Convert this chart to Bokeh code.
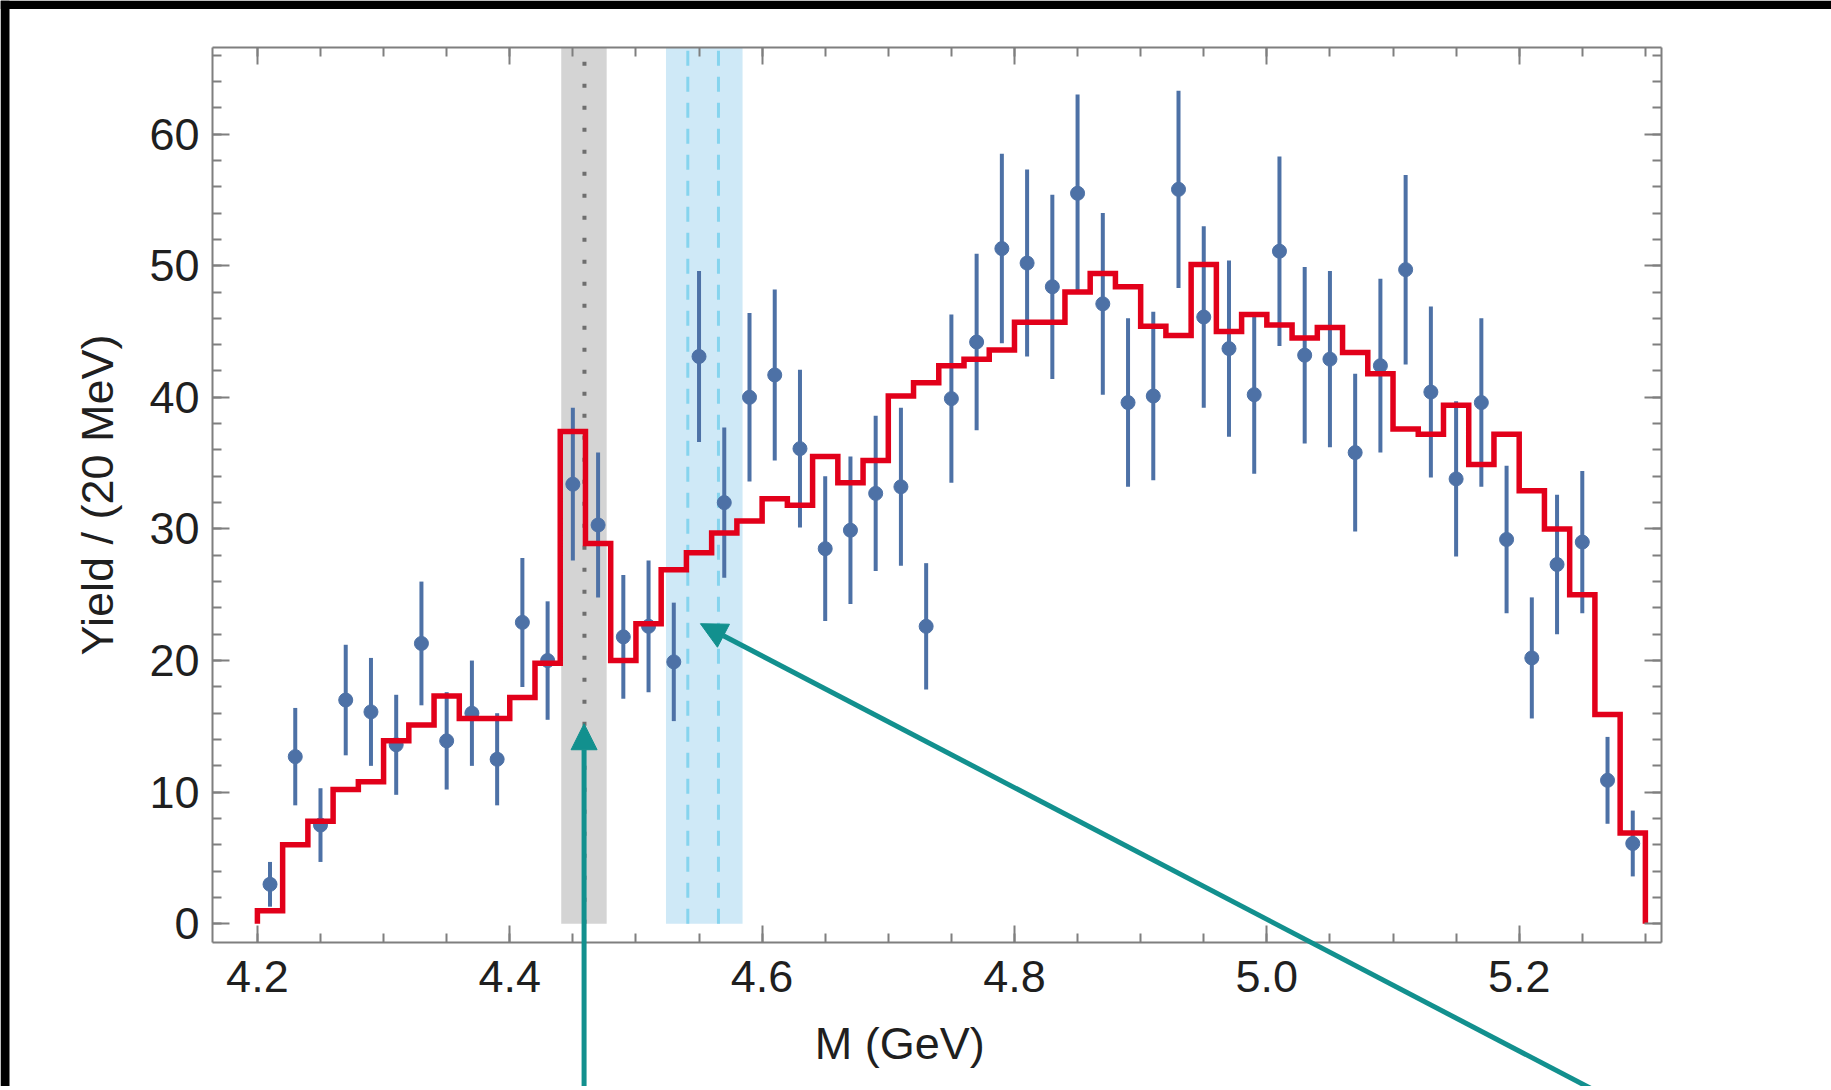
from bokeh.plotting import figure
from bokeh.models import (Range1d, LinearAxis, SingleIntervalTicker, NumeralTickFormatter,
                          Arrow, NormalHead, Label, CustomJSTickFormatter)
from bokeh.embed import file_html
from bokeh.resources import INLINE

# ---------------- data ----------------
mass = [4.21, 4.23, 4.25, 4.27, 4.29, 4.31, 4.33, 4.35, 4.37, 4.39,
        4.41, 4.43, 4.45, 4.47, 4.49, 4.51, 4.53, 4.55, 4.57, 4.59,
        4.61, 4.63, 4.65, 4.67, 4.69, 4.71, 4.73, 4.75, 4.77, 4.79,
        4.81, 4.83, 4.85, 4.87, 4.89, 4.91, 4.93, 4.95, 4.97, 4.99,
        5.01, 5.03, 5.05, 5.07, 5.09, 5.11, 5.13, 5.15, 5.17, 5.19,
        5.21, 5.23, 5.25, 5.27, 5.29]

yield_data = [3.0, 12.7, 7.5, 17.0, 16.1, 13.6, 21.3, 13.9, 16.0, 12.5,
              22.9, 20.0, 33.4, 30.3, 21.8, 22.6, 19.9, 43.1, 32.0, 40.0,
              41.7, 36.1, 28.5, 29.9, 32.7, 33.2, 22.6, 39.9, 44.2, 51.3,
              50.2, 48.4, 55.5, 47.1, 39.6, 40.1, 55.8, 46.1, 43.7, 40.2,
              51.1, 43.2, 42.9, 35.8, 42.4, 49.7, 40.4, 33.8, 39.6, 29.2,
              20.2, 27.3, 29.0, 10.9, 6.1]

yield_err = [1.7, 3.7, 2.8, 4.2, 4.1, 3.8, 4.7, 3.7, 4.0, 3.5,
             4.9, 4.5, 5.8, 5.5, 4.7, 5.0, 4.5, 6.5, 5.7, 6.4,
             6.5, 6.0, 5.5, 5.6, 5.9, 6.0, 4.8, 6.4, 6.7, 7.2,
             7.1, 7.0, 7.5, 6.9, 6.4, 6.4, 7.5, 6.9, 6.7, 6.0,
             7.2, 6.7, 6.7, 6.0, 6.6, 7.2, 6.5, 5.9, 6.4, 5.6,
             4.6, 5.3, 5.4, 3.3, 2.5]

bin_edges = [4.20, 4.22, 4.24, 4.26, 4.28, 4.30, 4.32, 4.34, 4.36, 4.38,
             4.40, 4.42, 4.44, 4.46, 4.48, 4.50, 4.52, 4.54, 4.56, 4.58,
             4.60, 4.62, 4.64, 4.66, 4.68, 4.70, 4.72, 4.74, 4.76, 4.78,
             4.80, 4.82, 4.84, 4.86, 4.88, 4.90, 4.92, 4.94, 4.96, 4.98,
             5.00, 5.02, 5.04, 5.06, 5.08, 5.10, 5.12, 5.14, 5.16, 5.18,
             5.20, 5.22, 5.24, 5.26, 5.28, 5.30]

fit_yield = [1.0, 6.0, 7.8, 10.2, 10.8, 13.9, 15.1, 17.3, 15.6, 15.6,
             17.2, 19.8, 37.4, 28.9, 20.0, 22.8, 26.9, 28.2, 29.7, 30.6,
             32.3, 31.8, 35.5, 33.5, 35.2, 40.1, 41.1, 42.4, 42.9, 43.6,
             45.7, 45.7, 48.0, 49.4, 48.4, 45.4, 44.7, 50.1, 45.0, 46.3,
             45.5, 44.5, 45.3, 43.4, 41.8, 37.6, 37.2, 39.4, 34.9, 37.2,
             32.9, 30.0, 25.0, 15.9, 6.9]

# bands / markers (GeV)
grey_band = (4.4408, 4.4768)
grey_line = 4.4592
blue_band = (4.5238, 4.5845)
blue_lines = [4.5411, 4.5654]

# annotation arrows: (x_start, y_start, x_end, y_end) in data units
arrow1 = (4.4589, -14.0, 4.4589, 15.2)
arrow2 = (5.2866, -14.0, 4.5511, 22.8)

# ---------------- layout / styles ----------------
W, H = 1831, 1086
PXG = 1261.8                  # pixels per GeV
PXY = 13.162                  # pixels per yield unit
X0 = 4.2 - 256.9 / PXG        # canvas left edge in GeV
Y1 = 923.3 / PXY              # canvas top edge in yield units
X_RANGE = (X0, X0 + W / PXG)
Y_RANGE = (Y1 - H / PXY, Y1)
BOX_X = (4.1644, 5.3128)      # plot box (axes) extent in x
BOX_Y = (-1.42, 66.58)        # plot box extent in y

FONT = "Liberation Sans"
PT = "#4d71a6"
RED = "#e2001a"
TEAL = "#12908e"
AX = "#7f7f7f"
TXT = "#1f1f1f"

p = figure(width=W, height=H,
           x_range=Range1d(*X_RANGE), y_range=Range1d(*Y_RANGE),
           output_backend="svg", toolbar_location=None,
           min_border=0, min_border_left=0, min_border_right=0,
           min_border_top=0, min_border_bottom=0,
           background_fill_color="white", border_fill_color="white",
           outline_line_color=None)
p.title.visible = False
p.grid.visible = False


def style_axis(ax):
    ax.axis_line_color = AX
    ax.axis_line_width = 2
    ax.major_tick_in = 17
    ax.major_tick_out = 0
    ax.minor_tick_in = 9
    ax.minor_tick_out = 0
    ax.major_tick_line_color = AX
    ax.minor_tick_line_color = AX
    ax.major_tick_line_width = 2
    ax.minor_tick_line_width = 2
    ax.major_label_text_font = FONT
    ax.major_label_text_font_size = "45px"
    ax.major_label_text_color = TXT


xax = p.xaxis[0]
yax = p.yaxis[0]
for ax in (xax, yax):
    style_axis(ax)
xax.ticker = SingleIntervalTicker(interval=0.2, num_minor_ticks=4)
xax.formatter = NumeralTickFormatter(format="0.0")
xax.fixed_location = BOX_Y[0]
xax.bounds = BOX_X
xax.major_label_standoff = 19

yax.ticker = SingleIntervalTicker(interval=10, num_minor_ticks=5)
yax.fixed_location = BOX_X[0]
yax.bounds = BOX_Y
yax.major_label_standoff = 13
yax.axis_label = "Yield / (20 MeV)"
yax.axis_label_text_font = FONT
yax.axis_label_text_font_size = "45px"
yax.axis_label_text_font_style = "normal"
yax.axis_label_text_color = TXT
yax.axis_label_standoff = 23

blank = CustomJSTickFormatter(code="return ''")
top_ax = LinearAxis(ticker=SingleIntervalTicker(interval=0.2, num_minor_ticks=4),
                    formatter=blank, fixed_location=BOX_Y[1], bounds=BOX_X)
right_ax = LinearAxis(ticker=SingleIntervalTicker(interval=10, num_minor_ticks=5),
                      formatter=blank, fixed_location=BOX_X[1], bounds=BOX_Y)
for ax in (top_ax, right_ax):
    style_axis(ax)
    ax.major_label_standoff = 0
    ax.major_label_text_font_size = "1px"
p.add_layout(top_ax, "above")
p.add_layout(right_ax, "right")

# black screenshot border (top and left)
p.quad(left=[X_RANGE[0]], right=[X_RANGE[0] + 9 / PXG], bottom=[Y_RANGE[0]], top=[Y_RANGE[1]],
       fill_color="black", line_color=None)
p.quad(left=[X_RANGE[0]], right=[X_RANGE[1]], bottom=[Y_RANGE[1] - 8.5 / PXY], top=[Y_RANGE[1]],
       fill_color="black", line_color=None)

# bands
p.quad(left=[grey_band[0]], right=[grey_band[1]], bottom=[0], top=[BOX_Y[1]],
       fill_color="#d4d4d4", line_color=None)
p.quad(left=[blue_band[0]], right=[blue_band[1]], bottom=[0], top=[BOX_Y[1]],
       fill_color="#cfe9f7", line_color=None)
p.line(x=[grey_line, grey_line], y=[0, BOX_Y[1]], line_color="#6e6e6e",
       line_width=4, line_dash="4 18")
for bx in blue_lines:
    p.line(x=[bx, bx], y=[0, BOX_Y[1]], line_color="#86d4ee", line_width=3,
           line_dash="15 11")

# data points with error bars
lo = [v - e for v, e in zip(yield_data, yield_err)]
hi = [v + e for v, e in zip(yield_data, yield_err)]
p.segment(x0=mass, y0=lo, x1=mass, y1=hi, line_color=PT, line_width=4)
p.scatter(x=mass, y=yield_data, size=14, fill_color=PT, line_color=PT)

# fit histogram
p.step(x=[bin_edges[0]] + bin_edges, y=[0] + fit_yield + [0], mode="after",
       line_color=RED, line_width=5.5, line_join="miter")

# x axis label
p.add_layout(Label(x=4.709, y=-9.1, text="M (GeV)", text_align="center",
                   text_baseline="middle", text_font=FONT,
                   text_font_size="45px", text_color=TXT))

# arrows
for a in (arrow1, arrow2):
    p.add_layout(Arrow(end=NormalHead(size=26, fill_color=TEAL, line_color=TEAL, line_width=1),
                       x_start=a[0], y_start=a[1], x_end=a[2], y_end=a[3],
                       line_color=TEAL, line_width=5))

open("out.html", "w").write(file_html(p, INLINE))
